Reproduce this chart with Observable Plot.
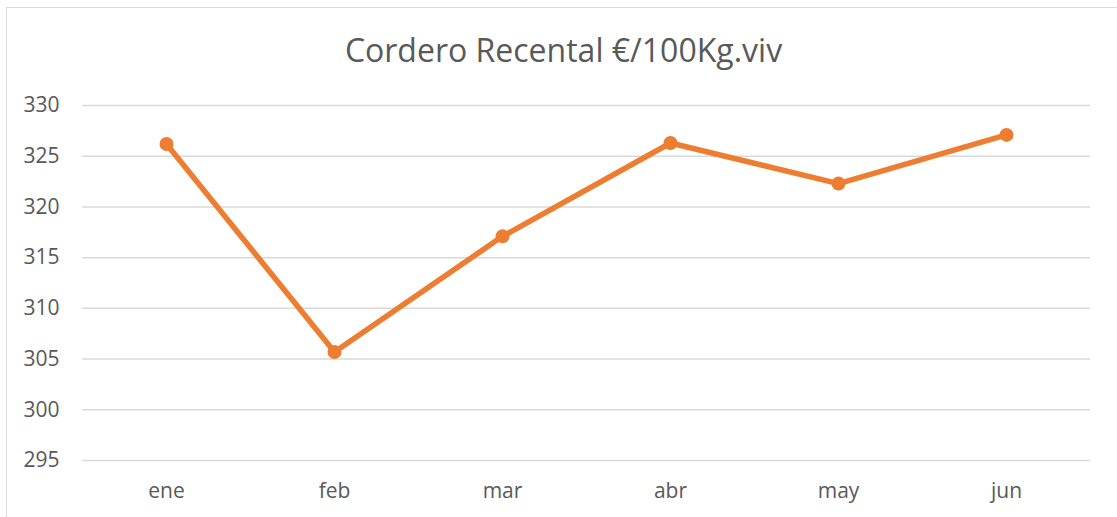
<!DOCTYPE html>
<html>
<head>
<meta charset="utf-8">
<script src="https://cdn.jsdelivr.net/npm/d3@7"></script>
<script src="https://cdn.jsdelivr.net/npm/@observablehq/plot@0.6"></script>
<style>
  html, body { margin: 0; padding: 0; background: #fff; }
  #wrap { position: relative; width: 1117px; height: 517px; overflow: hidden; font-family: "Open Sans", sans-serif; }
  #frame { position: absolute; left: 6px; top: 7px; width: 1200px; height: 600px; border-left: 1.5px solid #d9d9d9; border-top: 1.5px solid #d9d9d9; box-sizing: border-box; }
  #title { position: absolute; left: 0; top: 30px; width: 1127px; text-align: center; font-size: 32px; color: #595959; line-height: 40px; }
  #chart { position: absolute; left: 0; top: 80px; }
</style>
</head>
<body>
<div id="wrap">
  <div id="frame"></div>
  <div id="title">Cordero Recental €/100Kg.viv</div>
  <div id="chart"></div>
</div>
<script>
const months = ["ene", "feb", "mar", "abr", "may", "jun"];
const prices = [326.2, 305.7, 317.1, 326.3, 322.3, 327.1];
const yTicks = [295, 300, 305, 310, 315, 320, 325, 330];

const data = months.map((m, i) => ({month: m, price: prices[i]}));
const orange = "#ED7D31";
const textColor = "#595959";

const chart = Plot.plot({
  width: 1117,
  height: 437,
  marginLeft: 82,
  marginRight: 27,
  marginTop: 25,
  marginBottom: 57,
  style: {fontFamily: "'Open Sans', sans-serif", fontSize: "21px", color: textColor, background: "transparent"},
  x: {type: "point", domain: months, padding: 0.5, label: null},
  y: {domain: [295, 330], label: null},
  marks: [
    Plot.gridY(yTicks, {stroke: "#d9d9d9", strokeOpacity: 1, strokeWidth: 1.5}),
    Plot.axisY(yTicks, {tickSize: 0, tickPadding: 23, fill: textColor, label: null}),
    Plot.axisX({tickSize: 0, tickPadding: 23, fill: textColor, label: null}),
    Plot.line(data, {x: "month", y: "price", stroke: orange, strokeWidth: 5.5, strokeLinejoin: "round"}),
    Plot.dot(data, {x: "month", y: "price", fill: orange, r: 7, stroke: null})
  ]
});
document.getElementById("chart").appendChild(chart);
</script>
</body>
</html>
